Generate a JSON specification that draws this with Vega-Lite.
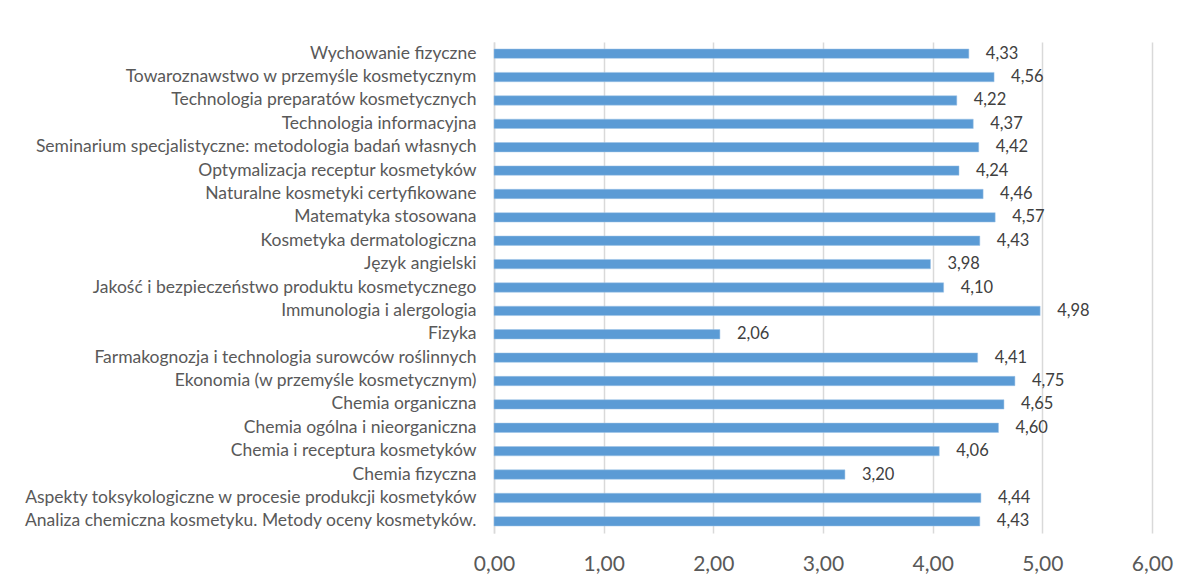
{
  "$schema": "https://vega.github.io/schema/vega-lite/v6.json",
  "width": 658,
  "height": 491,
  "autosize": {"type": "none"},
  "padding": {"left": 494, "top": 42, "right": 37, "bottom": 53},
  "background": "white",
  "config": {
    "locale": {"number": {"decimal": ",", "thousands": " ", "grouping": [3], "currency": ["", " zł"]}},
    "view": {"stroke": null},
    "font": "Lato"
  },
  "data": {"values": [
    {"subject": "Wychowanie fizyczne", "score": 4.33},
    {"subject": "Towaroznawstwo w przemyśle kosmetycznym", "score": 4.56},
    {"subject": "Technologia preparatów kosmetycznych ", "score": 4.22},
    {"subject": "Technologia informacyjna", "score": 4.37},
    {"subject": "Seminarium specjalistyczne: metodologia badań własnych", "score": 4.42},
    {"subject": "Optymalizacja receptur kosmetyków", "score": 4.24},
    {"subject": "Naturalne kosmetyki certyfikowane", "score": 4.46},
    {"subject": "Matematyka stosowana", "score": 4.57},
    {"subject": "Kosmetyka dermatologiczna", "score": 4.43},
    {"subject": "Język angielski", "score": 3.98},
    {"subject": "Jakość i bezpieczeństwo produktu kosmetycznego", "score": 4.10},
    {"subject": "Immunologia i alergologia", "score": 4.98},
    {"subject": "Fizyka", "score": 2.06},
    {"subject": "Farmakognozja i technologia surowców roślinnych", "score": 4.41},
    {"subject": "Ekonomia (w przemyśle kosmetycznym)", "score": 4.75},
    {"subject": "Chemia organiczna", "score": 4.65},
    {"subject": "Chemia ogólna i nieorganiczna", "score": 4.60},
    {"subject": "Chemia i receptura kosmetyków", "score": 4.06},
    {"subject": "Chemia fizyczna", "score": 3.20},
    {"subject": "Aspekty toksykologiczne w procesie produkcji kosmetyków", "score": 4.44},
    {"subject": "Analiza chemiczna kosmetyku. Metody oceny kosmetyków.", "score": 4.43}
  ]},
  "encoding": {
    "y": {
      "field": "subject", "type": "nominal", "sort": null, "title": null,
      "scale": {"paddingInner": 0.6, "paddingOuter": 0.3},
      "axis": {
        "labelFontSize": 17.5, "labelColor": "#595959", "labelPadding": 18,
        "ticks": false, "domainColor": "#D9D9D9", "domainWidth": 1.5,
        "labelLimit": 0, "grid": false
      }
    },
    "x": {
      "field": "score", "type": "quantitative", "title": null,
      "scale": {"domain": [0, 6], "nice": false},
      "axis": {
        "values": [0, 1, 2, 3, 4, 5, 6], "format": ".2f",
        "labelFontSize": 21, "labelColor": "#595959", "labelPadding": 20,
        "labelFlush": false,
        "ticks": false, "domain": false, "grid": true,
        "gridColor": "#D9D9D9", "gridWidth": 1.5
      }
    }
  },
  "layer": [
    {"mark": {"type": "bar", "color": "#5B9BD5", "stroke": "#9DC3E6", "strokeWidth": 0.5}},
    {
      "mark": {"type": "text", "align": "left", "baseline": "middle", "dx": 17, "fontSize": 16.5, "color": "#404040"},
      "encoding": {"text": {"field": "score", "type": "quantitative", "format": ".2f"}}
    }
  ]
}
